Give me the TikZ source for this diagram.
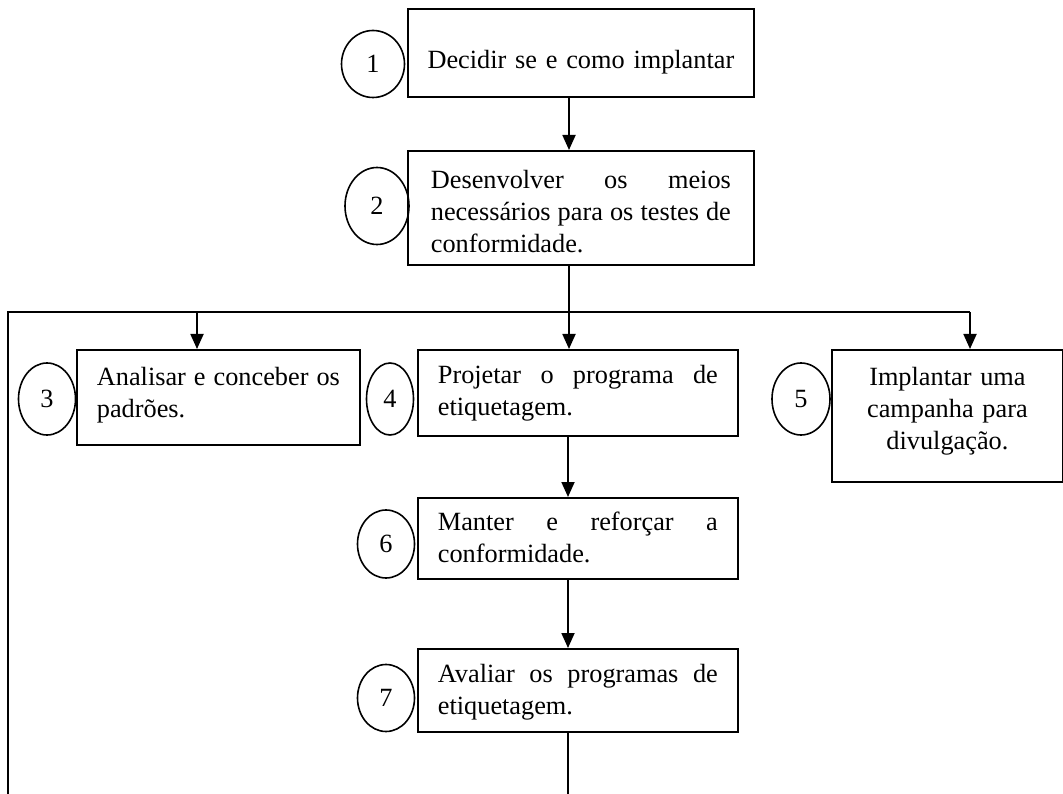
\documentclass[tikz,border=0pt]{standalone}
\usepackage{fontspec}
\setmainfont{Liberation Serif}
\usepackage{tikz}
\usetikzlibrary{arrows.meta, shapes.geometric}

\tikzset{
  passo/.style={draw, line width=1.8pt, anchor=north west, inner ysep=0pt, align=justify,
    font=\fontsize{26.3}{31.6}\selectfont,
    execute at begin node={\hyphenpenalty=10000\tolerance=10000}},
  centrado/.style={align=center, execute at begin node={\hyphenpenalty=10000}},
  numero/.style={draw, ellipse, line width=1.6pt, inner sep=0pt, font=\fontsize{26.3}{31.6}\selectfont},
  seta/.style={line width=1.8pt, -{Triangle[length=15pt,width=13pt]}},
  linha/.style={line width=1.8pt}
}

\begin{document}
\begin{tikzpicture}[x=1pt,y=1pt,yscale=-1]
\useasboundingbox (0,0) rectangle (1063,794);

%Shape: Boxes
\node [passo, align=center, text width=330pt, inner xsep=8pt, text height=60pt, text depth=28pt] (b1) at (407,8) {Decidir se e como implantar};
\node [passo, text width=300pt, inner xsep=23pt, text height=38pt, text depth=76pt] (b2) at (407,150) {Desenvolver os meios necessários para os testes de conformidade.};
\node [passo, text width=243pt, inner xsep=20pt, text height=36pt, text depth=59pt] (b3) at (76,349) {Analisar e conceber os padrões.};
\node [passo, text width=280pt, inner xsep=20pt, text height=34pt, text depth=52pt] (b4) at (417,349) {Projetar o programa de etiquetagem.};
\node [passo, align=center, text width=201pt, inner xsep=15pt, text height=36pt, text depth=96pt] (b5) at (831,349) {Implantar uma\\ campanha para\\ divulgação.};
\node [passo, text width=280pt, inner xsep=20pt, text height=33pt, text depth=48pt] (b6) at (417,497) {Manter e reforçar a conformidade.};
\node [passo, text width=280pt, inner xsep=20pt, text height=34pt, text depth=49pt] (b7) at (417,648) {Avaliar os programas de etiquetagem.};

%Shape: Numbers
\node [numero, minimum width=63pt, minimum height=67pt] (c1) at (373,64) {1};
\node [numero, minimum width=64pt, minimum height=77pt] (c2) at (377,206) {2};
\node [numero, minimum width=57pt, minimum height=72pt] (c3) at (47,399) {3};
\node [numero, minimum width=47pt, minimum height=72pt] (c4) at (390,399) {4};
\node [numero, minimum width=58pt, minimum height=72pt] (c5) at (801,399) {5};
\node [numero, minimum width=57pt, minimum height=68pt] (c6) at (386,544) {6};
\node [numero, minimum width=57pt, minimum height=67pt] (c7) at (386,698) {7};

%Connector points
\coordinate (bus) at (569,312);
\coordinate (busL) at (8,312);
\coordinate (busR) at (970,312);
\coordinate (tap3) at (197,312);
\coordinate (fimL) at (8,794);
\coordinate (fimM) at (568,794);

%Connectors
\draw [seta] (b1.south -| bus) -- (b2.north -| bus);
\draw [linha] (b2.south -| bus) -- (bus);
\draw [linha] (busR) -- (busL) -- (fimL);
\draw [seta] (tap3) -- (b3.north -| tap3);
\draw [seta] (bus) -- (b4.north -| bus);
\draw [seta] (busR) -- (b5.north -| busR);
\draw [seta] (b4.south -| fimM) -- (b6.north -| fimM);
\draw [seta] (b6.south -| fimM) -- (b7.north -| fimM);
\draw [linha] (b7.south -| fimM) -- (fimM);

\end{tikzpicture}
\end{document}
